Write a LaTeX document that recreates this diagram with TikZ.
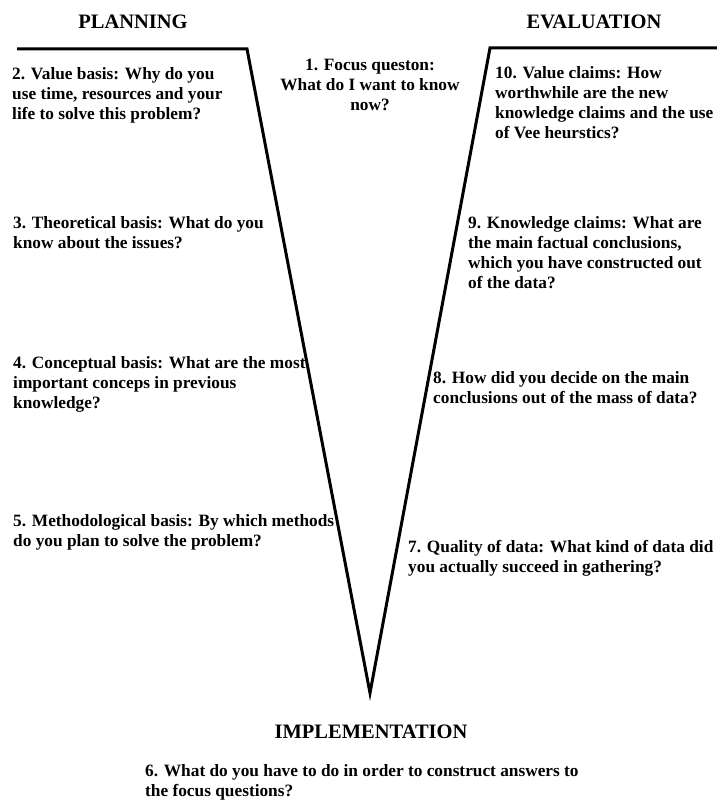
\documentclass[tikz,border=0pt]{standalone}
\usepackage{fontspec}
\setmainfont{Liberation Serif}
\begin{document}
\begin{tikzpicture}[x=1pt,y=-1pt,
  txt/.style={anchor=base west,inner sep=0pt,align=left,font=\bfseries\fontsize{17.3}{20.3}\selectfont},
  ctxt/.style={anchor=base,inner sep=0pt,align=center,font=\bfseries\fontsize{17.3}{20.3}\selectfont},
  ttl/.style={anchor=base,inner sep=0pt,font=\bfseries\fontsize{20.5}{24}\selectfont},
  vee/.style={line width=3pt,line join=miter}]
\useasboundingbox (0,0) rectangle (717,800);
\coordinate (lt) at (17,49);
\coordinate (lc) at (247,49);
\coordinate (bot) at (370,693);
\coordinate (rc) at (490,48);
\coordinate (rt) at (720,48);
\draw[vee] (lt) -- (lc) -- (bot) -- (rc) -- (rt);
\node[ttl] (plan) at (133,29) {PLANNING};
\node[ttl] (eval) at (594,29) {EVALUATION};
\node[ttl] (impl) at (371,738) {IMPLEMENTATION};
% multi-line nodes: base anchor lies on the last line
\node[ctxt] (q1) at (370,110.6) {1. Focus queston:\\What do I want to know\\now?};
\node[txt] (q2) at (12,119.6) {2. Value basis: Why do you\\use time, resources and your\\life to solve this problem?};
\node[txt] (q3) at (13,248.3) {3. Theoretical basis: What do you\\know about the issues?};
\node[txt] (q4) at (13,408.6) {4. Conceptual basis: What are the most\\important conceps in previous\\knowledge?};
\node[txt] (q5) at (13,546.3) {5. Methodological basis: By which methods\\do you plan to solve the problem?};
\node[txt] (q6) at (145,796.5) {6. What do you have to do in order to construct answers to\\the focus questions?};
\node[txt] (q7) at (408,572.3) {7. Quality of data: What kind of data did\\you actually succeed in gathering?};
\node[txt] (q8) at (433,403.3) {8. How did you decide on the main\\conclusions out of the mass of data?};
\node[txt] (q9) at (468,288.9) {9. Knowledge claims: What are\\the main factual conclusions,\\which you have constructed out\\of the data?};
\node[txt] (q10) at (495,138.9) {10. Value claims: How\\worthwhile are the new\\knowledge claims and the use\\of Vee heurstics?};
\end{tikzpicture}
\end{document}
